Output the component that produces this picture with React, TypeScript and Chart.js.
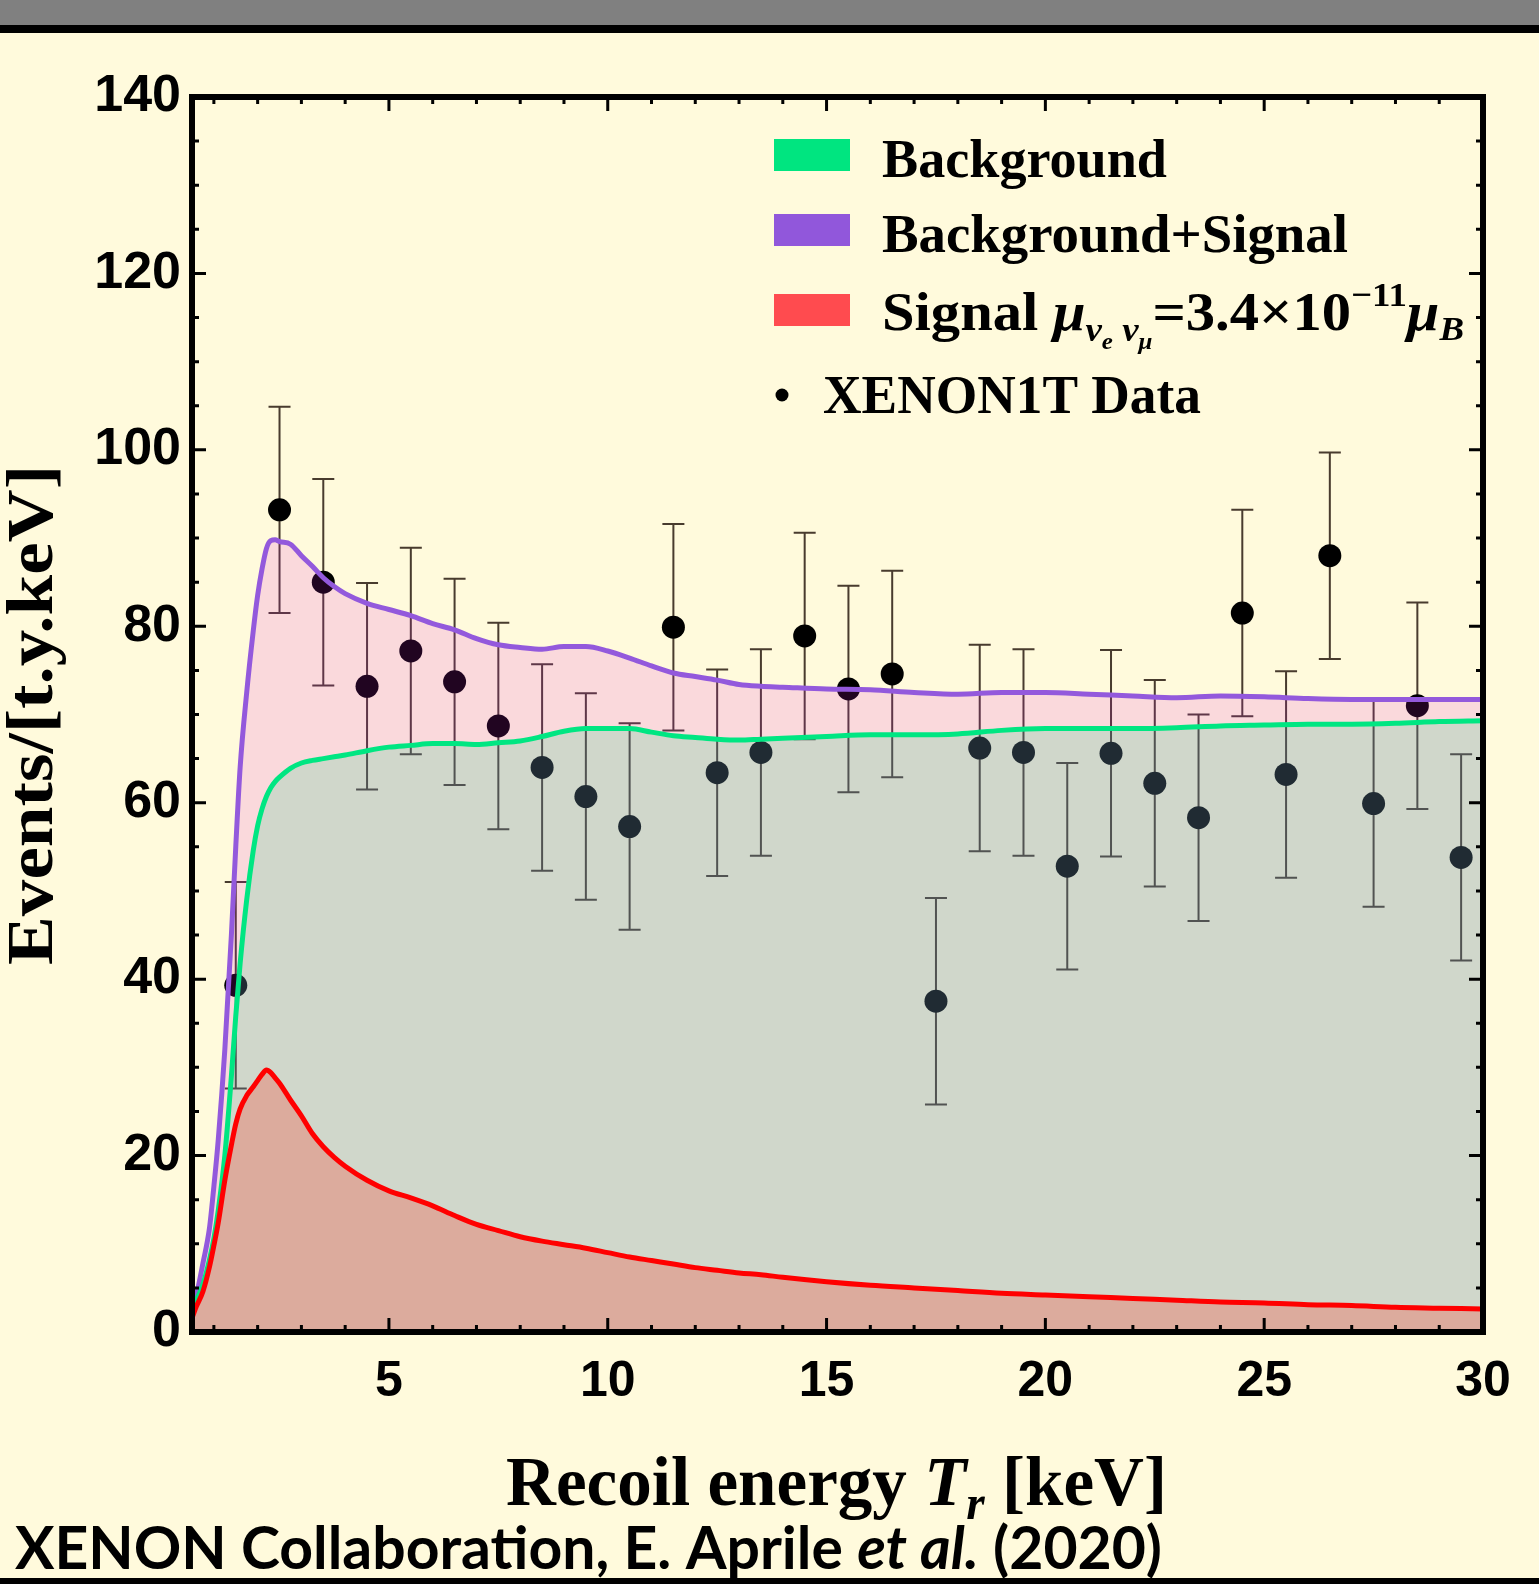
import React, { useEffect, useRef } from 'react';
import { Chart, registerables } from 'chart.js';

Chart.register(...registerables);

// ---------------- data ----------------
const curveX = [
  0.5, 0.6, 0.75, 0.9, 1.0, 1.1, 1.25, 1.4, 1.5, 1.6,
  1.75, 1.9, 2.0, 2.1, 2.2, 2.3, 2.4, 2.5, 2.75, 3.0,
  3.25, 3.5, 3.75, 4.0, 4.5, 5.0, 5.5, 6.0, 6.5, 7.0,
  7.5, 8.0, 8.5, 9.0, 9.5, 10, 10.5, 11, 11.5, 12,
  12.5, 13, 13.5, 14, 15, 16, 17, 18, 19, 20,
  21, 22, 23, 24, 25, 26, 27, 28, 29, 30,
];
const signalY = [
  1.6, 2.9, 4.6, 7.4, 9.8, 12.4, 17.2, 21.2, 23.6, 25.3,
  26.8, 27.8, 28.5, 29.2, 29.7, 29.4, 28.8, 28.2, 26.3, 24.5,
  22.5, 21.0, 19.8, 18.8, 17.2, 16.0, 15.2, 14.3, 13.2, 12.2,
  11.5, 10.8, 10.3, 9.9, 9.5, 9.0, 8.5, 8.1, 7.7, 7.3,
  7.0, 6.7, 6.5, 6.2, 5.7, 5.3, 5.0, 4.7, 4.4, 4.2,
  4.0, 3.8, 3.6, 3.4, 3.3, 3.1, 3.0, 2.8, 2.7, 2.6,
];
const backgroundY = [
  2.2, 3.6, 5.4, 8.2, 10.6, 13.8, 20.0, 29.0, 35.8, 41.8,
  49.0, 54.6, 57.4, 59.3, 60.7, 61.7, 62.4, 62.9, 63.9, 64.5,
  64.8, 65.0, 65.2, 65.4, 65.9, 66.3, 66.5, 66.7, 66.7, 66.6,
  66.8, 67.0, 67.5, 68.1, 68.4, 68.4, 68.4, 68.0, 67.6, 67.4,
  67.2, 67.1, 67.2, 67.3, 67.5, 67.7, 67.7, 67.8, 68.2, 68.4,
  68.4, 68.4, 68.5, 68.7, 68.8, 68.9, 68.9, 69.0, 69.2, 69.3,
];
const totalY = [
  2.8, 4.2, 7.8, 11.8, 16.5, 21.8, 32.0, 45.0, 55.0, 64.0,
  72.5, 79.5, 83.5, 86.5, 88.8, 89.7, 89.8, 89.6, 89.3, 88.0,
  86.8, 85.5, 84.5, 83.7, 82.6, 81.9, 81.2, 80.3, 79.6, 78.6,
  77.9, 77.6, 77.4, 77.7, 77.7, 77.2, 76.4, 75.5, 74.7, 74.3,
  73.9, 73.4, 73.2, 73.1, 72.9, 72.8, 72.5, 72.3, 72.5, 72.5,
  72.3, 72.1, 71.9, 72.1, 72.0, 71.8, 71.7, 71.7, 71.7, 71.7,
];

const dataX = [
  1.5, 2.5, 3.5, 4.5, 5.5, 6.5, 7.5, 8.5, 9.5, 10.5,
  11.5, 12.5, 13.5, 14.5, 15.5, 16.5, 17.5, 18.5, 19.5, 20.5,
  21.5, 22.5, 23.5, 24.5, 25.5, 26.5, 27.5, 28.5, 29.5,
];
const dataY = [
  39.3, 93.2, 85.0, 73.2, 77.2, 73.7, 68.7, 64.0, 60.7, 57.3,
  79.9, 63.4, 65.7, 78.9, 72.9, 74.6, 37.5, 66.2, 65.7, 52.8,
  65.6, 62.2, 58.3, 81.5, 63.2, 88.0, 59.9, 71.0, 53.8,
];
const dataErr = [
  11.7, 11.7, 11.7, 11.7, 11.7, 11.7, 11.7, 11.7, 11.7, 11.7,
  11.7, 11.7, 11.7, 11.7, 11.7, 11.7, 11.7, 11.7, 11.7, 11.7,
  11.7, 11.7, 11.7, 11.7, 11.7, 11.7, 11.7, 11.7, 11.7,
];

const xTickLabels = [5, 10, 15, 20, 25, 30];
const yTickLabels = [0, 20, 40, 60, 80, 100, 120, 140];

// ---------------- style ----------------
const W = 1539;
const H = 1584;
const CREAM = '#FFFADC';
const SERIF = "'Liberation Serif', 'DejaVu Serif', 'Times New Roman', serif";
const SANS = "'Liberation Sans', Arial, sans-serif";
const GREEN = '#00E682';
const PURPLE = '#9359DC';
const RED = '#FF0000';

type Run = { t: string; font: string; dy?: number };

function drawRuns(ctx: CanvasRenderingContext2D, runs: Run[], x: number, y: number, fitWidth?: number) {
  ctx.save();
  ctx.textAlign = 'left';
  ctx.textBaseline = 'alphabetic';
  ctx.fillStyle = '#000';
  let total = 0;
  const widths = runs.map((r) => {
    ctx.font = r.font;
    const w = ctx.measureText(r.t).width;
    total += w;
    return w;
  });
  const sx = fitWidth ? fitWidth / total : 1;
  ctx.translate(x, y);
  ctx.scale(sx, 1);
  let cx = 0;
  runs.forEach((r, i) => {
    ctx.font = r.font;
    ctx.fillText(r.t, cx, r.dy || 0);
    cx += widths[i];
  });
  ctx.restore();
}

const decoPlugin = {
  id: 'deco',
  beforeDraw(chart: any) {
    const ctx: CanvasRenderingContext2D = chart.ctx;
    ctx.save();
    ctx.fillStyle = CREAM;
    ctx.fillRect(0, 0, W, H);
    ctx.fillStyle = '#808080';
    ctx.fillRect(0, 0, W, 25);
    ctx.fillStyle = '#000';
    ctx.fillRect(0, 25, W, 8);
    ctx.fillRect(0, 1578, W, 6);
    ctx.restore();
  },
  beforeDatasetsDraw(chart: any) {
    const ctx: CanvasRenderingContext2D = chart.ctx;
    const xs = chart.scales.x;
    const ys = chart.scales.y;
    ctx.save();
    ctx.strokeStyle = 'rgba(40,25,15,0.85)';
    ctx.lineWidth = 2;
    dataX.forEach((xv, i) => {
      const px = xs.getPixelForValue(xv);
      const pTop = ys.getPixelForValue(dataY[i] + dataErr[i]);
      const pBot = ys.getPixelForValue(dataY[i] - dataErr[i]);
      ctx.beginPath();
      ctx.moveTo(px, pTop);
      ctx.lineTo(px, pBot);
      ctx.moveTo(px - 11, pTop);
      ctx.lineTo(px + 11, pTop);
      ctx.moveTo(px - 11, pBot);
      ctx.lineTo(px + 11, pBot);
      ctx.stroke();
    });
    ctx.restore();
  },
  afterDraw(chart: any) {
    const ctx: CanvasRenderingContext2D = chart.ctx;
    const xs = chart.scales.x;
    const ys = chart.scales.y;
    const { left, right, top, bottom } = chart.chartArea;
    ctx.save();
    // tick marks, all four sides, pointing inward
    ctx.strokeStyle = '#000';
    ctx.lineWidth = 3;
    ctx.beginPath();
    for (let v = 1; v < 30; v += 1) {
      const px = xs.getPixelForValue(v);
      const len = v % 5 === 0 ? 14 : 7;
      ctx.moveTo(px, bottom);
      ctx.lineTo(px, bottom - len);
      ctx.moveTo(px, top);
      ctx.lineTo(px, top + len);
    }
    for (let v = 5; v < 140; v += 5) {
      const py = ys.getPixelForValue(v);
      const len = v % 20 === 0 ? 14 : 7;
      ctx.moveTo(left, py);
      ctx.lineTo(left + len, py);
      ctx.moveTo(right, py);
      ctx.lineTo(right - len, py);
    }
    ctx.stroke();
    // frame
    ctx.lineWidth = 6;
    ctx.strokeRect(left, top, right - left, bottom - top);

    // legend
    const sw = [
      { y: 139, c: '#00E580' },
      { y: 214, c: '#9157DB' },
      { y: 294, c: '#FF4B4F' },
    ];
    sw.forEach((s) => {
      ctx.fillStyle = s.c;
      ctx.fillRect(774, s.y, 76, 32);
    });
    const LB = `bold 54px ${SERIF}`;
    const LBI = `italic bold 54px ${SERIF}`;
    drawRuns(ctx, [{ t: 'Background', font: LB }], 882, 177, 285);
    drawRuns(ctx, [{ t: 'Background+Signal', font: LB }], 882, 252, 466);
    drawRuns(
      ctx,
      [
        { t: 'Signal ', font: LB },
        { t: 'μ', font: LBI },
        { t: 'ν', font: `italic bold 34px ${SERIF}`, dy: 11 },
        { t: 'e', font: `italic bold 23px ${SERIF}`, dy: 19 },
        { t: ' ν', font: `italic bold 34px ${SERIF}`, dy: 11 },
        { t: 'μ', font: `italic bold 23px ${SERIF}`, dy: 19 },
        { t: '=3.4×10', font: LB },
        { t: '−11', font: `bold 34px ${SERIF}`, dy: -24 },
        { t: 'μ', font: LBI },
        { t: 'B', font: `italic bold 34px ${SERIF}`, dy: 10 },
      ],
      882,
      330,
      582
    );
    ctx.fillStyle = '#000';
    ctx.beginPath();
    ctx.arc(782, 395, 6.5, 0, Math.PI * 2);
    ctx.fill();
    drawRuns(ctx, [{ t: 'XENON1T Data', font: LB }], 823, 413, 378);

    // x axis title
    drawRuns(
      ctx,
      [
        { t: 'Recoil energy ', font: `bold 70px ${SERIF}` },
        { t: 'T', font: `italic bold 70px ${SERIF}` },
        { t: 'r', font: `italic bold 48px ${SERIF}`, dy: 14 },
        { t: ' [keV]', font: `bold 70px ${SERIF}` },
      ],
      506,
      1505,
      661
    );

    // y axis title (rotated)
    ctx.save();
    ctx.translate(52, 715);
    ctx.rotate(-Math.PI / 2);
    drawRuns(ctx, [{ t: 'Events/[t.y.keV]', font: `bold 66px ${SERIF}` }], -250, 0, 500);
    ctx.restore();

    // citation
    drawRuns(
      ctx,
      [
        { t: 'XENON Collaboration, E. Aprile ', font: `bold 60px Lato, 'Open Sans', sans-serif` },
        { t: 'et al.', font: `italic bold 60px Lato, 'Open Sans', sans-serif` },
        { t: ' (2020)', font: `bold 60px Lato, 'Open Sans', sans-serif` },
      ],
      15,
      1569,
      1147
    );
    ctx.restore();
  },
};

export default function App() {
  const ref = useRef<HTMLCanvasElement>(null);
  useEffect(() => {
    const canvas = ref.current;
    if (!canvas) return;
    const toXY = (xs: number[], ys: number[]) => xs.map((x, i) => ({ x, y: ys[i] }));
    const chart = new Chart(canvas, {
      type: 'line',
      data: {
        datasets: [
          {
            label: 'Background+Signal',
            data: toXY(curveX, totalY),
            borderColor: PURPLE,
            borderWidth: 5,
            backgroundColor: 'rgba(222,31,220,0.15)',
            fill: 1,
            pointRadius: 0,
            cubicInterpolationMode: 'monotone',
            order: 3,
          },
          {
            label: 'Background',
            data: toXY(curveX, backgroundY),
            borderColor: GREEN,
            borderWidth: 5,
            backgroundColor: 'rgba(103,138,166,0.31)',
            fill: 2,
            pointRadius: 0,
            cubicInterpolationMode: 'monotone',
            order: 2,
          },
          {
            label: 'Signal',
            data: toXY(curveX, signalY),
            borderColor: RED,
            borderWidth: 5,
            backgroundColor: '#DCAB9D',
            fill: 'origin',
            pointRadius: 0,
            cubicInterpolationMode: 'monotone',
            order: 1,
          },
          {
            label: 'XENON1T Data',
            data: toXY(dataX, dataY),
            showLine: false,
            pointRadius: 11.5,
            pointHoverRadius: 11.5,
            pointBorderWidth: 0,
            pointBackgroundColor: '#000',
            borderColor: '#000',
            fill: false,
            order: 4,
          },
        ],
      } as any,
      options: {
        animation: false,
        responsive: false,
        devicePixelRatio: 1,
        layout: { padding: { left: 0, top: 97, right: 56, bottom: 0 } },
        plugins: {
          legend: { display: false },
          tooltip: { enabled: false },
          title: { display: false },
        },
        events: [],
        scales: {
          x: {
            type: 'linear',
            min: 0.5,
            max: 30,
            grid: { display: false },
            border: { display: false },
            afterBuildTicks: (axis: any) => {
              axis.ticks = xTickLabels.map((v) => ({ value: v }));
            },
            afterFit: (scale: any) => {
              scale.height = 252;
            },
            ticks: {
              autoSkip: false,
              maxRotation: 0,
              padding: 12,
              color: '#000',
              font: { family: SANS, size: 50, weight: 'bold' },
            },
          },
          y: {
            type: 'linear',
            min: 0,
            max: 140,
            grid: { display: false },
            border: { display: false },
            afterBuildTicks: (axis: any) => {
              axis.ticks = yTickLabels.map((v) => ({ value: v }));
            },
            afterFit: (scale: any) => {
              scale.width = 192;
            },
            ticks: {
              autoSkip: false,
              padding: 3,
              color: '#000',
              font: { family: SANS, size: 52, weight: 'bold' },
            },
          },
        },
      } as any,
      plugins: [decoPlugin],
    });
    return () => chart.destroy();
  }, []);
  return (
    <div style={{ position: 'fixed', left: 0, top: 0, width: W, height: H, background: CREAM }}>
      <canvas ref={ref} width={W} height={H} style={{ display: 'block', width: W, height: H }} />
    </div>
  );
}
